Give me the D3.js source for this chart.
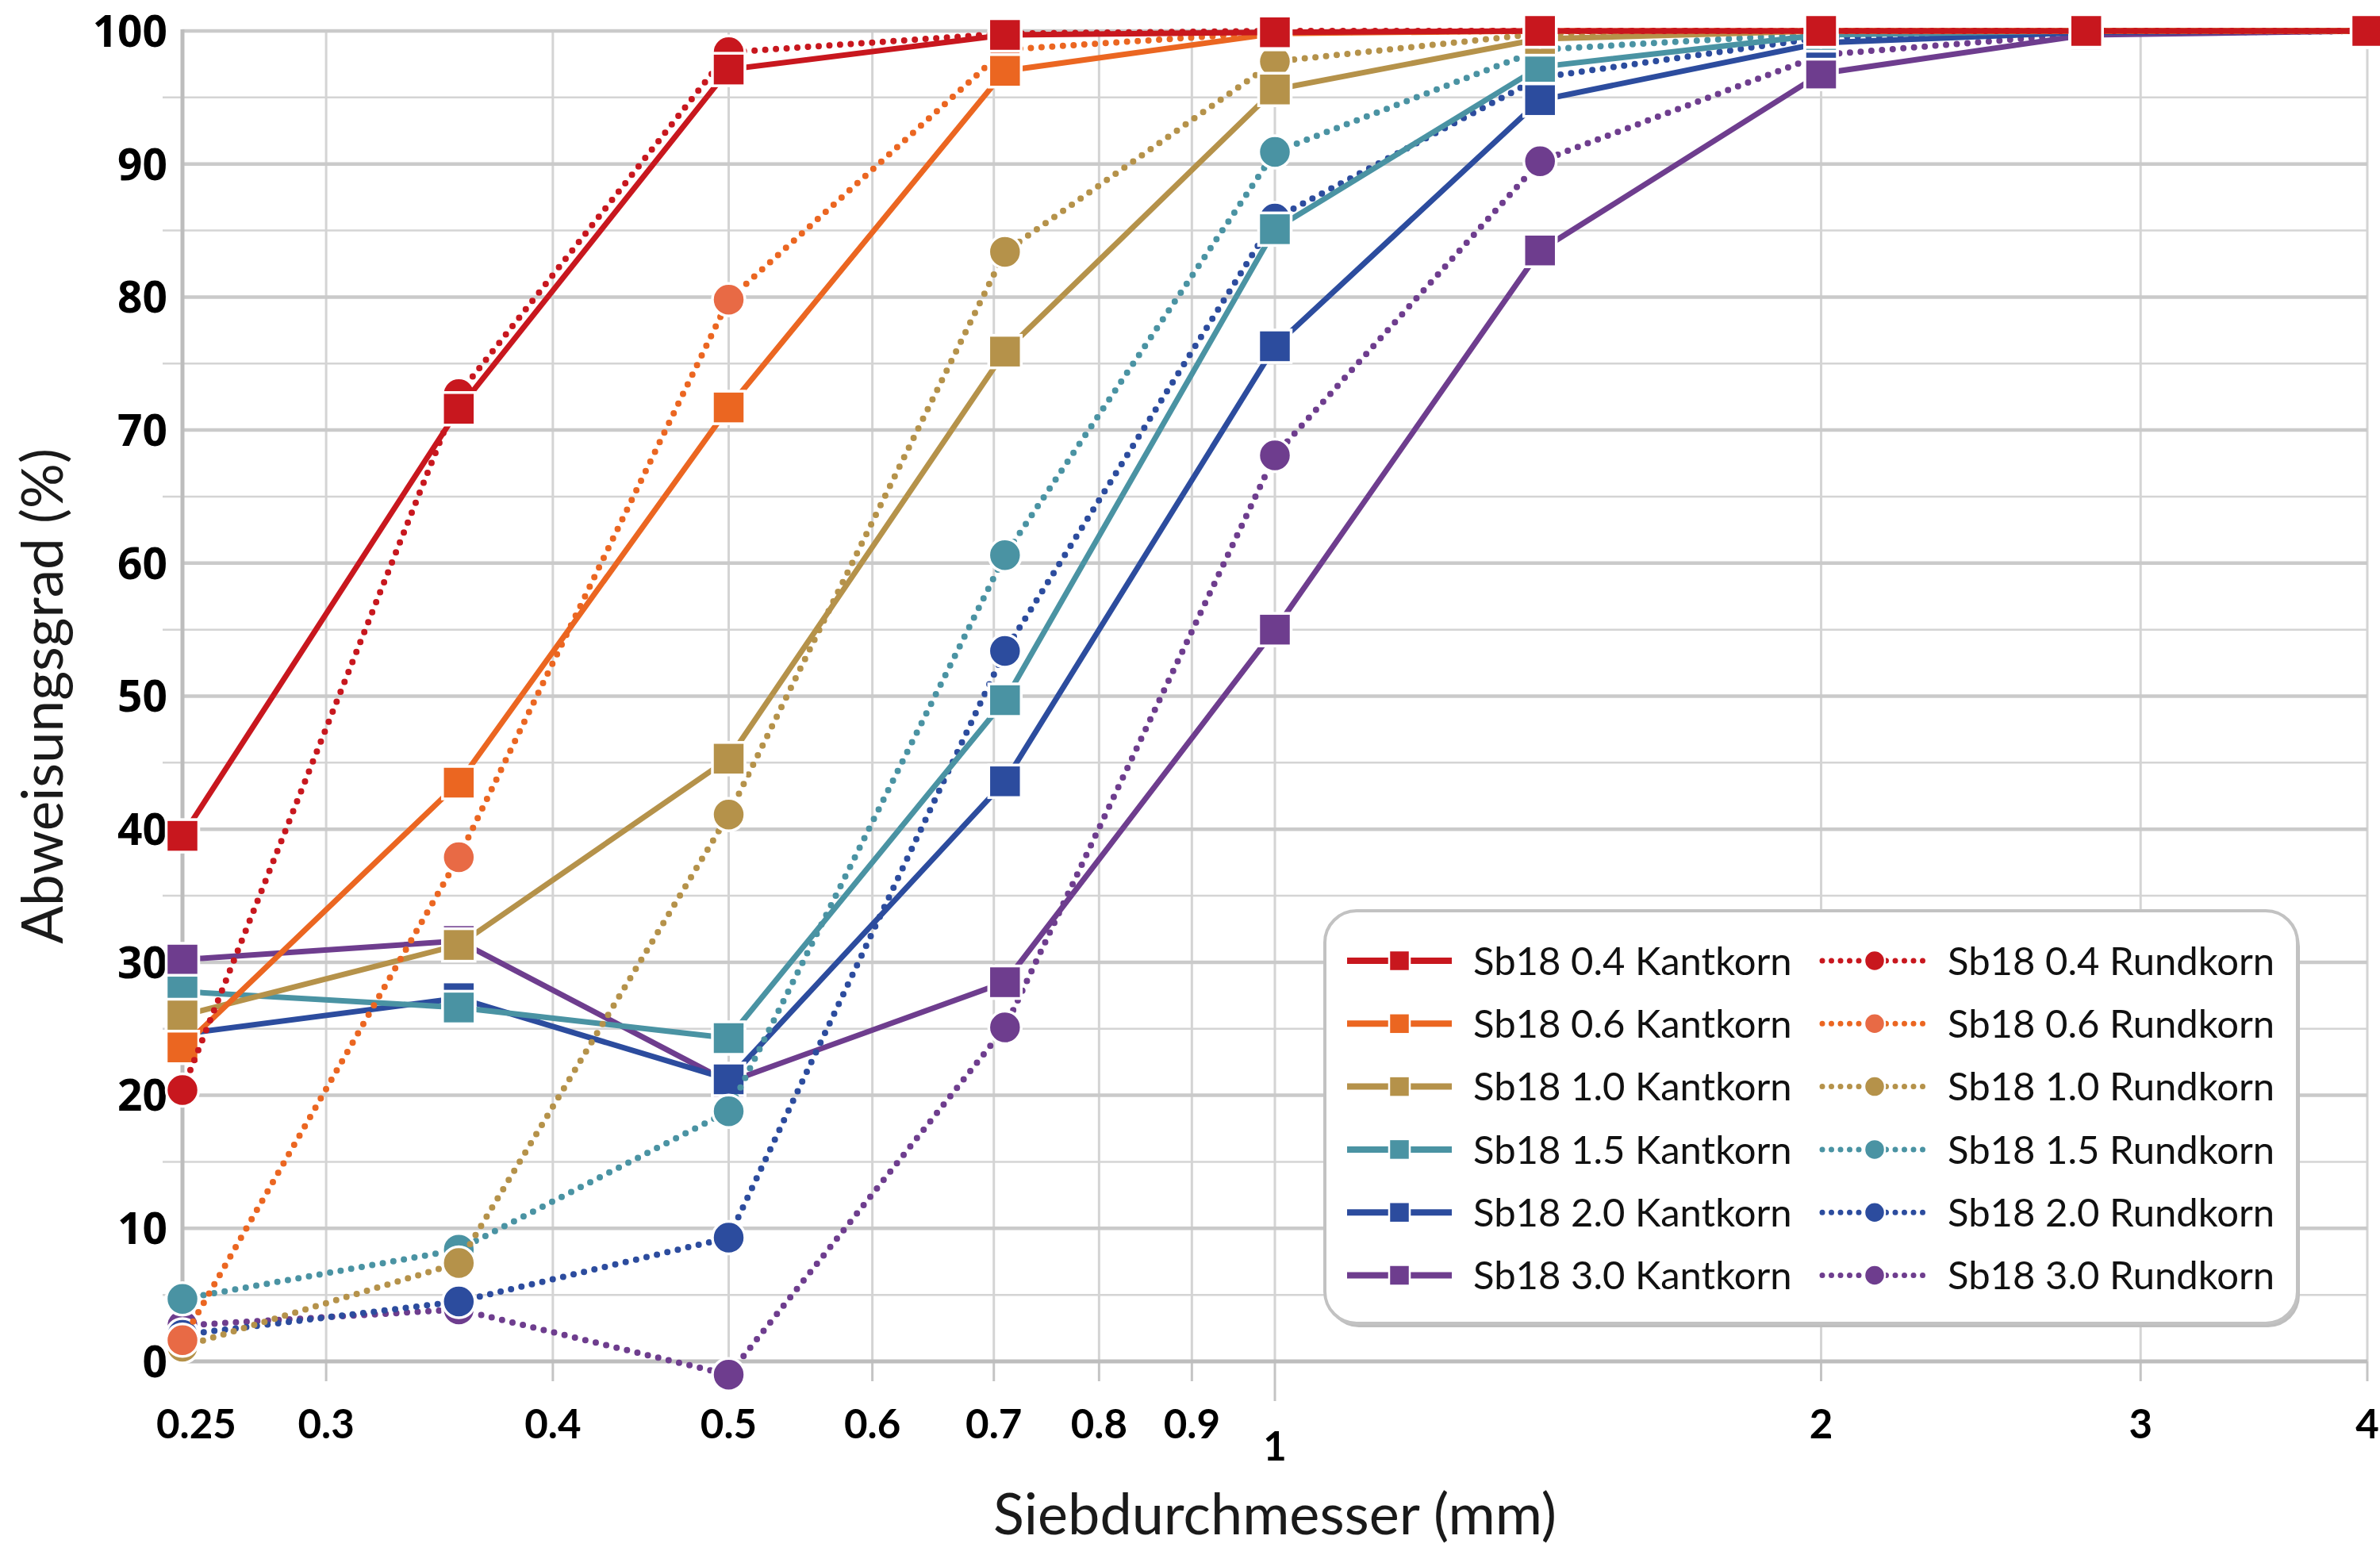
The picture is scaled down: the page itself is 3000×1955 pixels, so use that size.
<!DOCTYPE html>
<html>
<head>
<meta charset="utf-8">
<script src="https://cdn.jsdelivr.net/npm/d3@7"></script>
<style>
  body { margin: 0; background: #fff; }
  svg { display: block; }
</style>
</head>
<body>
<svg id="chart" width="3000" height="1955"></svg>
<script>
// sieve sizes (mm)
const sizes = [0.25, 0.355, 0.5, 0.71, 1.0, 1.4, 2.0, 2.8, 4.0];

// Abweisungsgrad (%) per sieve size
const kant04 = [39.5, 71.6, 97.1, 99.7, 99.9, 100, 100, 100, 100];
const rund04 = [20.4, 72.7, 98.4, 99.8, 100, 100, 100, 100, 100];
const kant06 = [23.6, 43.5, 71.7, 97.0, 99.8, 100, 100, 100, 100];
const rund06 = [1.6, 37.9, 79.8, 98.6, 99.9, 100, 100, 100, 100];
const kant10 = [26.0, 31.3, 45.3, 75.9, 95.6, 99.4, 100, 100, 100];
const rund10 = [1.1, 7.4, 41.1, 83.4, 97.7, 99.8, 100, 100, 100];
const kant15 = [27.8, 26.6, 24.3, 49.7, 85.1, 97.3, 99.7, 100, 100];
const rund15 = [4.7, 8.4, 18.8, 60.6, 90.9, 98.6, 99.8, 100, 100];
const kant20 = [24.6, 27.3, 21.2, 43.6, 76.3, 94.8, 99.1, 99.9, 100];
const rund20 = [2.0, 4.5, 9.3, 53.4, 85.9, 96.5, 99.5, 100, 100];
const kant30 = [30.2, 31.6, 21.0, 28.5, 55.0, 83.5, 96.8, 99.7, 100];
const rund30 = [2.7, 3.9, -1.0, 25.1, 68.1, 90.2, 98.2, 99.8, 100];

const seriesNames = [
  "Sb18 0.4 Kantkorn", "Sb18 0.4 Rundkorn",
  "Sb18 0.6 Kantkorn", "Sb18 0.6 Rundkorn",
  "Sb18 1.0 Kantkorn", "Sb18 1.0 Rundkorn",
  "Sb18 1.5 Kantkorn", "Sb18 1.5 Rundkorn",
  "Sb18 2.0 Kantkorn", "Sb18 2.0 Rundkorn",
  "Sb18 3.0 Kantkorn", "Sb18 3.0 Rundkorn"
];
const seriesValues = [kant04, rund04, kant06, rund06, kant10, rund10,
                      kant15, rund15, kant20, rund20, kant30, rund30];

const xTicks = [0.25, 0.3, 0.4, 0.5, 0.6, 0.7, 0.8, 0.9, 1, 2, 3, 4];
const yTicks = [0, 10, 20, 30, 40, 50, 60, 70, 80, 90, 100];
const yMinorTicks = [5, 15, 25, 35, 45, 55, 65, 75, 85, 95];

// styling
const lineColors = ["#C8171E", "#C8171E", "#EB6621", "#EB6621", "#B5924A", "#B5924A",
                    "#4A93A3", "#4A93A3", "#2C4C9E", "#2C4C9E", "#6E3D8E", "#6E3D8E"];
const markerColors = ["#C8171E", "#C8171E", "#EB6621", "#E86A45", "#B5924A", "#B5924A",
                      "#4A93A3", "#4A93A3", "#2C4C9E", "#2C4C9E", "#6E3D8E", "#6E3D8E"];

const svg = d3.select("#chart");
const mLeft = 230, mRight = 2984, mTop = 39, mBottom = 1716;

const x = d3.scaleLog().domain([0.25, 4]).range([mLeft, mRight]);
const y = d3.scaleLinear().domain([0, 100]).range([mBottom, mTop]);

const series = seriesNames.map((name, i) => ({
  name: name,
  round: name.indexOf("Rundkorn") >= 0,
  line: lineColors[i],
  fill: markerColors[i],
  points: sizes.map((s, j) => ({ s: s, v: seriesValues[i][j] }))
}));

// ---- grid ----
const grid = svg.append("g");
grid.selectAll(".vgrid")
  .data(xTicks.filter(d => d > 0.25))
  .join("line")
  .attr("x1", d => x(d)).attr("x2", d => x(d))
  .attr("y1", mTop).attr("y2", mBottom)
  .attr("stroke", "#D4D4D4").attr("stroke-width", 3);

grid.selectAll(".hminor")
  .data(yMinorTicks)
  .join("line")
  .attr("x1", mLeft - 25).attr("x2", mRight)
  .attr("y1", d => y(d)).attr("y2", d => y(d))
  .attr("stroke", "#D4D4D4").attr("stroke-width", 2.5);

grid.selectAll(".hmajor")
  .data(yTicks.filter(d => d > 0))
  .join("line")
  .attr("x1", mLeft).attr("x2", mRight)
  .attr("y1", d => y(d)).attr("y2", d => y(d))
  .attr("stroke", "#CACACA").attr("stroke-width", 4.5);

// x tick marks below axis
grid.selectAll(".xtick")
  .data(xTicks.filter(d => d > 0.25))
  .join("line")
  .attr("x1", d => x(d)).attr("x2", d => x(d))
  .attr("y1", mBottom).attr("y2", d => d === 1 ? mBottom + 50 : mBottom + 25)
  .attr("stroke", "#C4C4C4").attr("stroke-width", 3);

// axis lines
grid.append("line")
  .attr("x1", mLeft).attr("x2", mRight).attr("y1", y(0)).attr("y2", y(0))
  .attr("stroke", "#BDBDBD").attr("stroke-width", 5);
grid.append("line")
  .attr("x1", mLeft).attr("x2", mLeft).attr("y1", mTop - 2).attr("y2", mBottom + 2)
  .attr("stroke", "#BDBDBD").attr("stroke-width", 5);

// ---- tick labels ----
svg.append("g").selectAll("text")
  .data(yTicks)
  .join("text")
  .attr("x", 211).attr("y", d => y(d))
  .attr("dy", "0.36em")
  .attr("text-anchor", "end")
  .attr("font-family", "'Open Sans', sans-serif")
  .attr("font-weight", 700)
  .attr("font-size", 55)
  .attr("fill", "#000")
  .text(d => d);

svg.append("g").selectAll("text")
  .data(xTicks)
  .join("text")
  .attr("x", d => d === 0.25 ? x(d) - 33 : x(d))
  .attr("y", d => d === 1 ? 1841 : 1813)
  .attr("text-anchor", d => d === 0.25 ? "start" : "middle")
  .attr("font-family", "Lato, sans-serif")
  .attr("font-weight", 700)
  .attr("font-size", 51)
  .attr("fill", "#000")
  .text(d => String(d));

// ---- axis titles ----
svg.append("text")
  .attr("x", (mLeft + mRight) / 2).attr("y", 1934)
  .attr("text-anchor", "middle")
  .attr("font-family", "Lato, sans-serif")
  .attr("font-size", 72)
  .attr("fill", "#1a1a1a")
  .text("Siebdurchmesser (mm)");

svg.append("text")
  .attr("transform", `translate(54,${(mTop + mBottom) / 2}) rotate(-90)`)
  .attr("text-anchor", "middle")
  .attr("dy", "0.35em")
  .attr("font-family", "Lato, sans-serif")
  .attr("font-size", 71)
  .attr("fill", "#1a1a1a")
  .text("Abweisungsgrad (%)");

// ---- data ----
const line = d3.line().x(d => x(d.s)).y(d => y(d.v));
const plot = svg.append("g");

function drawMarkers(g, s, pts, size, strokeW) {
  if (s.round) {
    g.selectAll("circle").data(pts).join("circle")
      .attr("cx", d => x(d.s)).attr("cy", d => y(d.v))
      .attr("r", size / 2)
      .attr("fill", s.fill).attr("stroke", "#fff").attr("stroke-width", strokeW);
  } else {
    g.selectAll("rect").data(pts).join("rect")
      .attr("x", d => x(d.s) - size / 2).attr("y", d => y(d.v) - size / 2)
      .attr("width", size).attr("height", size)
      .attr("fill", s.fill).attr("stroke", "#fff").attr("stroke-width", strokeW);
  }
}

// first series end up on top
series.slice().reverse().forEach(s => {
  const g = plot.append("g");
  g.append("path")
    .datum(s.points)
    .attr("d", line)
    .attr("fill", "none")
    .attr("stroke", s.line)
    .attr("stroke-width", s.round ? 8 : 7)
    .attr("stroke-linecap", s.round ? "round" : "butt")
    .attr("stroke-dasharray", s.round ? "0 13.5" : null);
  drawMarkers(g, s, s.points, 41, 3.5);
});

// ---- legend ----
const lg = svg.append("g");
const lx = 1670, ly = 1148, lw = 1226, lh = 520;
lg.append("rect")
  .attr("x", lx + 3).attr("y", ly + 5).attr("width", lw).attr("height", lh)
  .attr("rx", 40).attr("fill", "#BEBEBE");
lg.append("rect")
  .attr("x", lx).attr("y", ly).attr("width", lw).attr("height", lh)
  .attr("rx", 40).attr("fill", "#fff")
  .attr("stroke", "#C2C2C2").attr("stroke-width", 4);

const rowY = i => 1211 + i * 79.3;
series.forEach((s, i) => {
  const row = Math.floor(i / 2);
  const col = i % 2;
  const sx = col === 0 ? 1698 : 2297;
  const cy = rowY(row);
  const item = lg.append("g");
  item.append("line")
    .attr("x1", sx).attr("x2", sx + 132).attr("y1", cy).attr("y2", cy)
    .attr("stroke", s.line)
    .attr("stroke-width", s.round ? 7 : 8)
    .attr("stroke-linecap", s.round ? "round" : "butt")
    .attr("stroke-dasharray", s.round ? "0 11.5" : null);
  if (s.round) {
    item.append("circle").attr("cx", sx + 66).attr("cy", cy).attr("r", 13)
      .attr("fill", s.fill).attr("stroke", "#fff").attr("stroke-width", 2.5);
  } else {
    item.append("rect").attr("x", sx + 66 - 13).attr("y", cy - 13)
      .attr("width", 26).attr("height", 26)
      .attr("fill", s.fill).attr("stroke", "#fff").attr("stroke-width", 2.5);
  }
  item.append("text")
    .attr("x", col === 0 ? 1857 : 2455).attr("y", cy)
    .attr("dy", "0.36em")
    .attr("font-family", "Lato, sans-serif")
    .attr("font-size", 49)
    .attr("fill", "#111")
    .text(s.name);
});
</script>
</body>
</html>
